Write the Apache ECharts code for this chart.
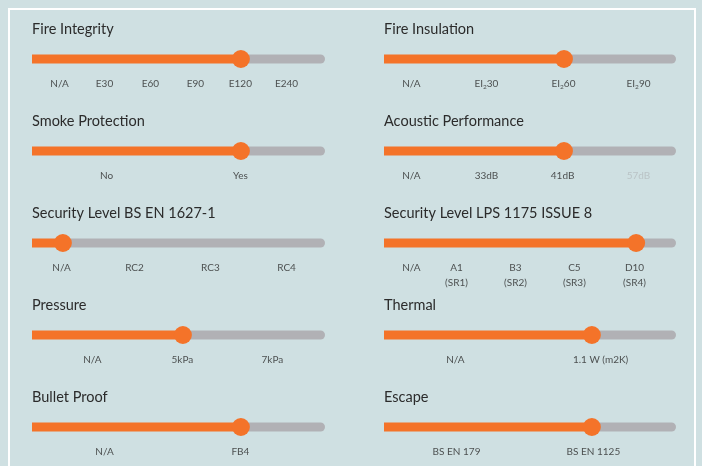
<!DOCTYPE html>
<html>
<head>
<meta charset="utf-8">
<script src="https://cdn.jsdelivr.net/npm/echarts@6/dist/echarts.min.js"></script>
<style>
  html, body { margin: 0; padding: 0; background: #cfe0e2; }
  #chart { width: 702px; height: 466px; }
</style>
</head>
<body>
<div id="chart"></div>
<script>
// ---- Data (positions along each slider, 0 = left end of track, 100 = right end) ----
const titles = [
  'Fire Integrity', 'Fire Insulation',
  'Smoke Protection', 'Acoustic Performance',
  'Security Level BS EN 1627-1', 'Security Level LPS 1175 ISSUE 8',
  'Pressure', 'Thermal',
  'Bullet Proof', 'Escape'
];
const levels = [72.4, 62.6, 72.4, 62.6, 10.7, 87.7, 52.3, 72.3, 72.4, 72.3];
const tickLabels = [
  ['N/A', 'E30', 'E60', 'E90', 'E120', 'E240'],
  ['N/A', 'EI_2 30', 'EI_2 60', 'EI_2 90'],
  ['No', 'Yes'],
  ['N/A', '33dB', '41dB', '57dB'],
  ['N/A', 'RC2', 'RC3', 'RC4'],
  ['N/A', 'A1\n(SR1)', 'B3\n(SR2)', 'C5\n(SR3)', 'D10\n(SR4)'],
  ['N/A', '5kPa', '7kPa'],
  ['N/A', '1.1 W (m2K)'],
  ['N/A', 'FB4'],
  ['BS EN 179', 'BS EN 1125']
];
const tickPositions = [
  [9.7, 25.3, 41.2, 56.8, 72.4, 88.4],
  [9.7, 35.8, 62.6, 88.7],
  [26.0, 72.4],
  [9.7, 35.8, 62.3, 88.7],
  [10.4, 35.7, 62.0, 88.4],
  [9.7, 25.4, 45.9, 66.4, 87.3],
  [21.1, 52.3, 83.5],
  [25.0, 75.5],
  [25.3, 72.4],
  [25.4, 73.0]
];
const mutedTicks = ['57dB'];

// ---- Layout / style ----
const ORANGE = '#f47329';
const GREY = '#b1b1b5';
const TEXT = '#2b2b2b';
const rowY = [59, 151, 243, 335, 427];
const colLeft = [32, 384];
const colWidth = [288.5, 287.5];

const grids = [], xAxes = [], yAxes = [], series = [], titleList = [];

titles.forEach((t, i) => {
  const col = i % 2, row = Math.floor(i / 2);
  const ty = rowY[row];
  grids.push({ left: colLeft[col], width: colWidth[col], top: ty - 25, height: 50 });
  xAxes.push({ type: 'value', gridIndex: i, min: 0, max: 100, show: false });
  yAxes.push({ type: 'value', gridIndex: i, min: -1, max: 1, show: false });
  titleList.push({
    text: t, left: colLeft[col], top: ty - 38, padding: 0,
    textStyle: { fontFamily: 'Lato', fontSize: 14.5, fontWeight: 'normal', color: TEXT, lineHeight: 17 }
  });
  const lvl = levels[i];
  series.push({
    type: 'line', xAxisIndex: i, yAxisIndex: i, silent: true, symbol: 'none',
    data: [[lvl, 0], [100, 0]],
    lineStyle: { color: GREY, width: 9, cap: 'round' }, z: 1
  });
  series.push({
    type: 'line', xAxisIndex: i, yAxisIndex: i, silent: true, symbol: 'none',
    data: [[0, 0], [lvl, 0]],
    lineStyle: { color: ORANGE, width: 9, cap: 'butt' }, z: 2
  });
  series.push({
    type: 'scatter', xAxisIndex: i, yAxisIndex: i, silent: true,
    data: [[lvl, 0]], symbolSize: 18, itemStyle: { color: ORANGE, opacity: 1 }, z: 3
  });
  series.push({
    type: 'scatter', xAxisIndex: i, yAxisIndex: i, silent: true,
    symbolSize: 1, itemStyle: { color: 'rgba(0,0,0,0)' }, z: 4,
    data: tickLabels[i].map((lab, k) => ({
      value: [tickPositions[i][k], -0.7],
      name: lab,
      label: mutedTicks.includes(lab) ? { color: '#b4bcbe' } : undefined
    })),
    label: {
      show: true, position: [0, 0], align: 'center', verticalAlign: 'top',
      fontFamily: 'Lato', fontSize: 10, color: TEXT, lineHeight: 15,
      formatter: p => {
        const n = p.name;
        if (n.indexOf('_2 ') >= 0) {
          const parts = n.split('_2 ');
          return '{a|' + parts[0] + '}{s|2}{a|' + parts[1] + '}';
        }
        return n;
      },
      rich: {
        a: { fontFamily: 'Lato', fontSize: 10, color: TEXT },
        s: { fontFamily: 'Lato', fontSize: 6.5, color: TEXT, padding: [7, 0, 0, 0] }
      }
    }
  });
});

const chart = echarts.init(document.getElementById('chart'), null, { renderer: 'canvas' });
chart.setOption({
  backgroundColor: '#cfe0e2',
  animation: false,
  title: titleList,
  grid: grids,
  xAxis: xAxes,
  yAxis: yAxes,
  series: series,
  graphic: [{
    type: 'rect', silent: true, z: 0,
    shape: { x: 9, y: 9, width: 686, height: 480 },
    style: { fill: 'none', stroke: '#ffffff', lineWidth: 2 }
  }]
});
</script>
</body>
</html>
